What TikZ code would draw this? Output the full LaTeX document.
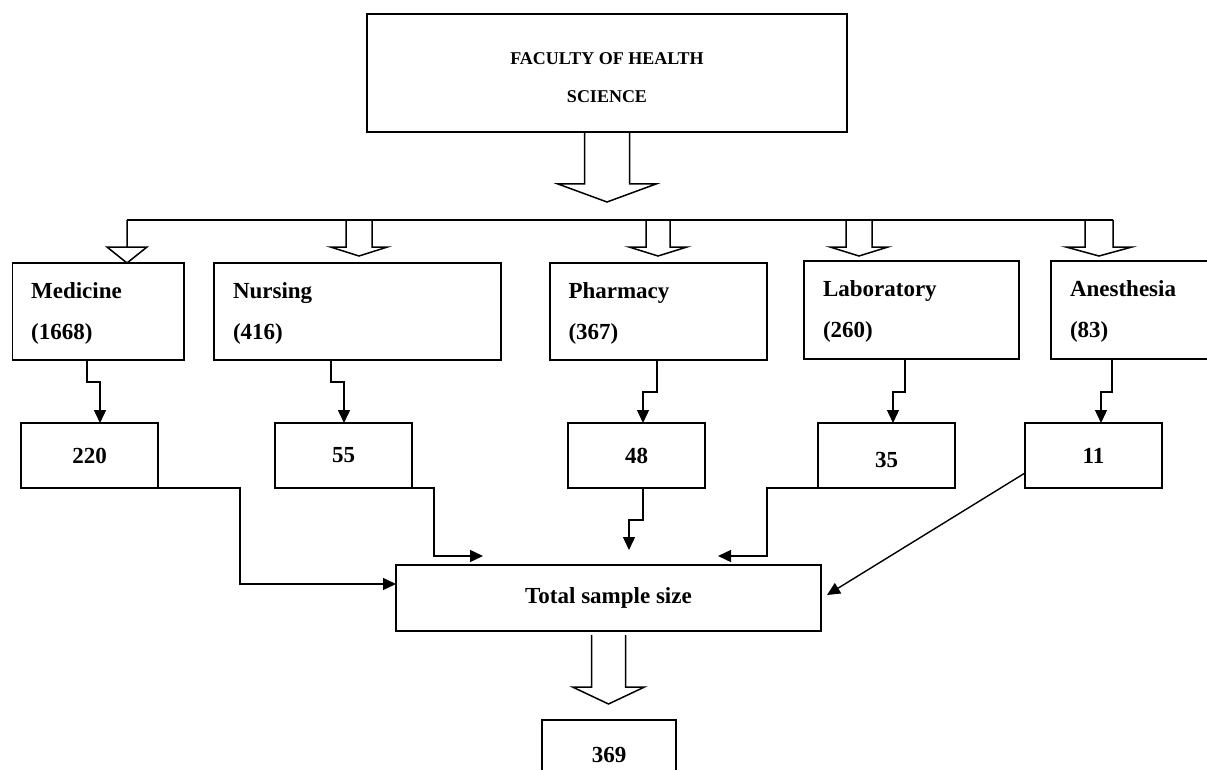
\documentclass[tikz,border=0pt]{standalone}
\usepackage{fontspec}
\setmainfont{Liberation Serif}
\usetikzlibrary{arrows.meta,calc}
\newcommand\fatarr[5]{% top centre, shaft half width, shaft length, head half width, head length
  \draw[hollow] ($#1+(-#2,0)$) -- ++(0,#3) -- ($#1+(-#4,#3)$) -- ($#1+(0,#3)+(0,#5)$)
     -- ($#1+(#4,#3)$) -- ($#1+(#2,#3)$) -- ($#1+(#2,0)$);}
\begin{document}
\begin{tikzpicture}[x=1pt,y=-1pt,
  box/.style={draw, line width=1.7pt, rectangle, inner sep=0pt, outer sep=0pt,
    anchor=north west, font=\bfseries\fontsize{23}{41}\selectfont},
  dept/.style={box, align=left, inner xsep=18.5pt, minimum height=97pt,
    text height=15pt, text depth=42pt},
  numbox/.style={box, minimum width=137pt, minimum height=65pt},
  conn/.style={line width=1.4pt, line join=miter, -{Triangle[length=13pt,width=12pt]}},
  plain/.style={line width=1.4pt, line join=miter},
  hollow/.style={line width=1.5pt, line join=miter},
]
\useasboundingbox (0,0) rectangle (1207,770);
\clip (0,0) rectangle (1207,770);

% top box
\node[box, minimum width=480pt, minimum height=118pt, align=center,
  font=\bfseries\fontsize{18}{38}\selectfont, text height=60pt, text depth=0pt] (title) at (367,14)
  {FACULTY OF HEALTH\\SCIENCE};

% departments
\node[dept, text width=134.4pt] (med) at (12.6,263) {Medicine\\(1668)};
\node[dept, text width=249pt, inner xsep=19pt] (nur) at (214,263) {Nursing\\(416)};
\node[dept, text width=180pt] (pha) at (550,263) {Pharmacy\\(367)};
\node[dept, text width=177pt, inner xsep=19pt, minimum height=98pt] (lab) at (804,261) {Laboratory\\(260)};
\node[dept, text width=137pt, inner xsep=19pt, minimum height=98pt] (ane) at (1051,261) {Anesthesia\\(83)};

% sample boxes
\node[numbox] (n220) at (21,423) {220};
\node[numbox] (n55) at (275,423) {55};
\node[numbox] (n48) at (568,423) {48};
\node[numbox, text height=23pt, text depth=0pt] (n35) at (818,423) {35};
\node[numbox] (n11) at (1025,423) {11};

% total
\node[box, minimum width=425pt, minimum height=66pt] (total) at (396,565) {Total sample size};
\node[box, minimum width=134pt, minimum height=70pt] (res) at (542,720) {369};

% big arrow from the faculty
\fatarr{(title.south)}{22.5}{52}{49}{18}

% branch line
\coordinate (bM) at (127,220);
\coordinate (bN) at (359,220);
\coordinate (bP) at (658,220);
\coordinate (bL) at (859,220);
\coordinate (bA) at (1099,220);
\coordinate (bEnd) at (1113,220);
\draw[plain] (bM) -- (bEnd);
\draw[hollow] (bM) -- ++(0,27) -- ++(-20,0) -- ($(med.north west)+(114.4,0)$) -- ($(bM)+(20,27)$) -- ($(bM)+(0,27)$);
\fatarr{(bN)}{13}{27}{28.5}{9}
\fatarr{(bP)}{12}{27}{29}{9}
\fatarr{(bL)}{13}{27}{29}{9}
\fatarr{(bA)}{14}{27}{33}{9}

% department -> sample
\draw[conn] ($(med.south west)+(74.4,0)$) -- ++(0,22) -- ++(13,0) -- ($(n220.north west)+(79,0)$);
\draw[conn] ($(nur.south west)+(117,0)$) -- ++(0,22) -- ++(13,0) -- ($(n55.north west)+(69,0)$);
\draw[conn] ($(pha.south west)+(107,0)$) -- ++(0,32) -- ++(-14,0) -- ($(n48.north west)+(75,0)$);
\draw[conn] ($(lab.south west)+(101,0)$) -- ++(0,33) -- ++(-12,0) -- ($(n35.north west)+(75,0)$);
\draw[conn] ($(ane.south west)+(61,0)$) -- ++(0,33) -- ++(-11,0) -- ($(n11.north west)+(76,0)$);

% sample -> total
\draw[conn] ($(n220.south west)+(107,0)$) -- ++(112,0) -- ++(0,96) -- ($(total.north west)+(0,19)$);
\draw[conn] (n55.south east) -- ++(22,0) -- ++(0,68) -- ++(49,0);
\draw[conn] ($(n48.south west)+(75,0)$) -- ++(0,32) -- ++(-14,0) -- ++(0,30);
\draw[conn] (n35.south west) -- ++(-51,0) -- ++(0,68) -- ++(-49,0);
\draw[conn] ($(n11.north west)+(0,50)$) -- ($(total.north east)+(6,30)$);

% total -> result
\coordinate (ta) at ($(total.south)+(0,4)$);
\fatarr{(ta)}{17}{52}{36}{17}
\end{tikzpicture}
\end{document}
